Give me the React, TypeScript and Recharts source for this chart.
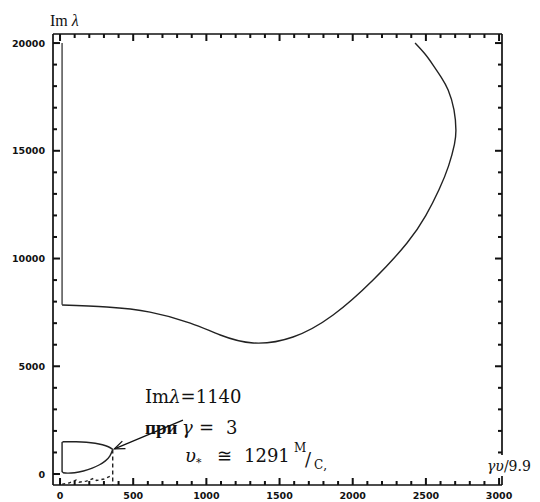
import React from "react";
import { LineChart, Line, XAxis, YAxis, ReferenceLine } from "recharts";

// major tick labels, minor ticks every 100 / 1000 in between
const xMajor = [0, 500, 1000, 1500, 2000, 2500, 3000];
const yMajor = [0, 5000, 10000, 15000, 20000];
const xTicks = Array.from({ length: 31 }, (_, i) => i * 100);
const yTicks = Array.from({ length: 21 }, (_, i) => i * 1000);

// upper branch: vertical stem and the big curve
const stem = [
  { x: 14, y: 20000 },
  { x: 14, y: 7850 },
];
const bigCurve = [
  { x: 14, y: 7845 },
  { x: 320, y: 7750 },
  { x: 615, y: 7515 },
  { x: 890, y: 7005 },
  { x: 1095, y: 6450 },
  { x: 1320, y: 6080 },
  { x: 1592, y: 6357 },
  { x: 1866, y: 7378 },
  { x: 2139, y: 9002 },
  { x: 2371, y: 10719 },
  { x: 2500, y: 12000 },
  { x: 2590, y: 13200 },
  { x: 2655, y: 14300 },
  { x: 2695, y: 15300 },
  { x: 2705, y: 15960 },
  { x: 2692, y: 16900 },
  { x: 2652, y: 17819 },
  { x: 2604, y: 18422 },
  { x: 2549, y: 18979 },
  { x: 2494, y: 19490 },
  { x: 2426, y: 20000 },
];

// small closed branch near the origin
const loopTop = [
  { x: 360, y: 1140 },
  { x: 330, y: 1265 },
  { x: 290, y: 1360 },
  { x: 240, y: 1430 },
  { x: 180, y: 1475 },
  { x: 110, y: 1495 },
  { x: 40, y: 1500 },
  { x: 20, y: 1495 },
];
const loopLeft = [
  { x: 20, y: 1495 },
  { x: 14, y: 1460 },
  { x: 14, y: 120 },
  { x: 20, y: 60 },
];
const loopBottom = [
  { x: 20, y: 60 },
  { x: 50, y: 40 },
  { x: 100, y: 60 },
  { x: 160, y: 140 },
  { x: 220, y: 270 },
  { x: 270, y: 430 },
  { x: 310, y: 610 },
  { x: 340, y: 830 },
  { x: 360, y: 1140 },
];
const dashVertical = [
  { x: 360, y: 1140 },
  { x: 360, y: -510 },
];
const dashWave = [
  { x: 15, y: -470 },
  { x: 60, y: -420 },
  { x: 110, y: -280 },
  { x: 130, y: -380 },
  { x: 180, y: -330 },
  { x: 230, y: -200 },
  { x: 250, y: -300 },
  { x: 300, y: -230 },
  { x: 345, y: -90 },
];
const arrowFrom = { x: 840, y: 2500 };
const arrowTo = { x: 372, y: 1170 };

const INK = "#111";
const tickFont = { fontFamily: "DejaVu Sans", fontWeight: 700, fontSize: 9.5, fill: "#111" };
const TW = 2; // tick thickness

// tick marks drawn as small filled rects pointing into the plot
const BottomTick = (p: any) => {
  const v = p.payload.value;
  const major = xMajor.includes(v);
  const len = major ? 7 : 4;
  return (
    <g>
      <rect x={p.x - TW / 2} y={p.y - len} width={TW} height={len} fill={INK} />
      {major && (
        <text x={p.x} y={p.y + 14} textAnchor="middle" style={tickFont}>
          {v}
        </text>
      )}
    </g>
  );
};
const TopTick = (p: any) => {
  const len = xMajor.includes(p.payload.value) ? 7 : 4;
  return <rect x={p.x - TW / 2} y={p.y} width={TW} height={len} fill={INK} />;
};
const LeftTick = (p: any) => {
  const v = p.payload.value;
  const major = yMajor.includes(v);
  const len = major ? 7 : 4;
  return (
    <g>
      <rect x={p.x} y={p.y - TW / 2} width={len} height={TW} fill={INK} />
      {major && (
        <text x={p.x - 8} y={p.y + 3.5} textAnchor="end" style={tickFont}>
          {v}
        </text>
      )}
    </g>
  );
};
const RightTick = (p: any) => {
  const len = yMajor.includes(p.payload.value) ? 7 : 4;
  return <rect x={p.x - len} y={p.y - TW / 2} width={len} height={TW} fill={INK} />;
};

const Arrow = (p: any) => {
  const { x1, y1, x2, y2 } = p;
  const a = Math.atan2(y2 - y1, x2 - x1);
  const L = 11;
  const w = 0.38;
  const h1 = { x: x2 - L * Math.cos(a - w), y: y2 - L * Math.sin(a - w) };
  const h2 = { x: x2 - L * Math.cos(a + w), y: y2 - L * Math.sin(a + w) };
  return (
    <g>
      <line x1={x1} y1={y1} x2={x2} y2={y2} stroke={INK} strokeWidth={1.3} />
      <polyline points={`${h1.x},${h1.y} ${x2},${y2} ${h2.x},${h2.y}`} fill="none" stroke={INK} strokeWidth={1.3} />
    </g>
  );
};

const curve = (data: any[], type: any, dash?: string, ax = "b", ay = "l", color = "#222") => (
  <Line
    xAxisId={ax}
    yAxisId={ay}
    data={data}
    dataKey="y"
    type={type}
    stroke={color}
    strokeWidth={1.4}
    strokeDasharray={dash}
    dot={false}
    activeDot={false}
    isAnimationActive={false}
  />
);

const axisCommon = {
  type: "number" as const,
  allowDataOverflow: true,
  interval: 0 as const,
  tickSize: 0,
  tickMargin: 0,
  tickLine: false,
  axisLine: { stroke: INK, strokeWidth: 1.7 },
};

export default function App() {
  const serif = "DejaVu Serif";
  return (
    <div style={{ position: "absolute", left: 0, top: 0, width: 540, height: 502, background: "#fff" }}>
      <LineChart width={540} height={502} margin={{ top: 33, right: 37, bottom: 0, left: 0 }}>
        <XAxis xAxisId="b" dataKey="x" domain={[-48, 3020]} ticks={xTicks} height={17} tick={BottomTick} {...axisCommon} />
        <XAxis xAxisId="t" orientation="top" dataKey="x" domain={[-48, 3020]} ticks={xTicks} height={1} tick={TopTick} {...axisCommon} />
        <YAxis yAxisId="l" domain={[-510, 20420]} ticks={yTicks} width={53} tick={LeftTick} {...axisCommon} />
        <YAxis yAxisId="r" orientation="right" domain={[-510, 20420]} ticks={yTicks} width={1} tick={RightTick} {...axisCommon} />
        {curve(stem, "linear", undefined, "t", "r", "none")}
        {curve(stem, "linear", undefined, "b", "l", "#444")}
        {curve(bigCurve, "natural")}
        {curve(loopTop, "natural")}
        {curve(loopLeft, "linear")}
        {curve(loopBottom, "natural")}
        {curve(dashVertical, "linear", "4 3")}
        {curve(dashWave, "linear", "3 3")}
        <ReferenceLine xAxisId="b" yAxisId="l" segment={[arrowFrom, arrowTo]} shape={Arrow} />
      </LineChart>
      <svg width={540} height={502} style={{ position: "absolute", left: 0, top: 0, pointerEvents: "none" }}>
        <text x={50} y={26} fontFamily="Liberation Serif" fontSize={16} fill="#111">
          Im <tspan fontStyle="italic">λ</tspan>
        </text>
        <rect x={484} y={455} width={56} height={21} fill="#fff" />
        <text x={487} y={471} fontFamily={serif} fontSize={14} fill="#111">
          <tspan fontStyle="italic">γυ</tspan>/9.9
        </text>
        <text x={145} y={403} fontFamily={serif} fontSize={18} fill="#111">
          Im<tspan fontStyle="italic">λ</tspan>=1140
        </text>
        <text x={145} y={434} fontFamily="Liberation Serif" fontSize={19} fontWeight={700} fill="#111">
          при
        </text>
        <text x={182} y={434} fontFamily={serif} fontSize={18} fontStyle="italic" fill="#111">
          γ
        </text>
        <text x={199} y={434} fontFamily={serif} fontSize={18} fill="#111">
          =
        </text>
        <text x={226} y={434} fontFamily={serif} fontSize={18} fill="#111">
          3
        </text>
        <text x={185} y={462} fontFamily={serif} fontSize={18} fontStyle="italic" fill="#111">
          υ
          <tspan fontSize={11} dy={4}>
            *
          </tspan>
        </text>
        <text x={217} y={462} fontFamily={serif} fontSize={18} fill="#111">
          ≅
        </text>
        <text x={244} y={462} fontFamily={serif} fontSize={18} fill="#111">
          1291
        </text>
        <text x={294} y={452} fontFamily={serif} fontSize={12} fill="#111">
          М
        </text>
        <text x={305} y={466} fontFamily={serif} fontSize={18} fill="#111">
          /
        </text>
        <text x={314} y={469} fontFamily={serif} fontSize={12} fill="#111">
          С,
        </text>
      </svg>
    </div>
  );
}
